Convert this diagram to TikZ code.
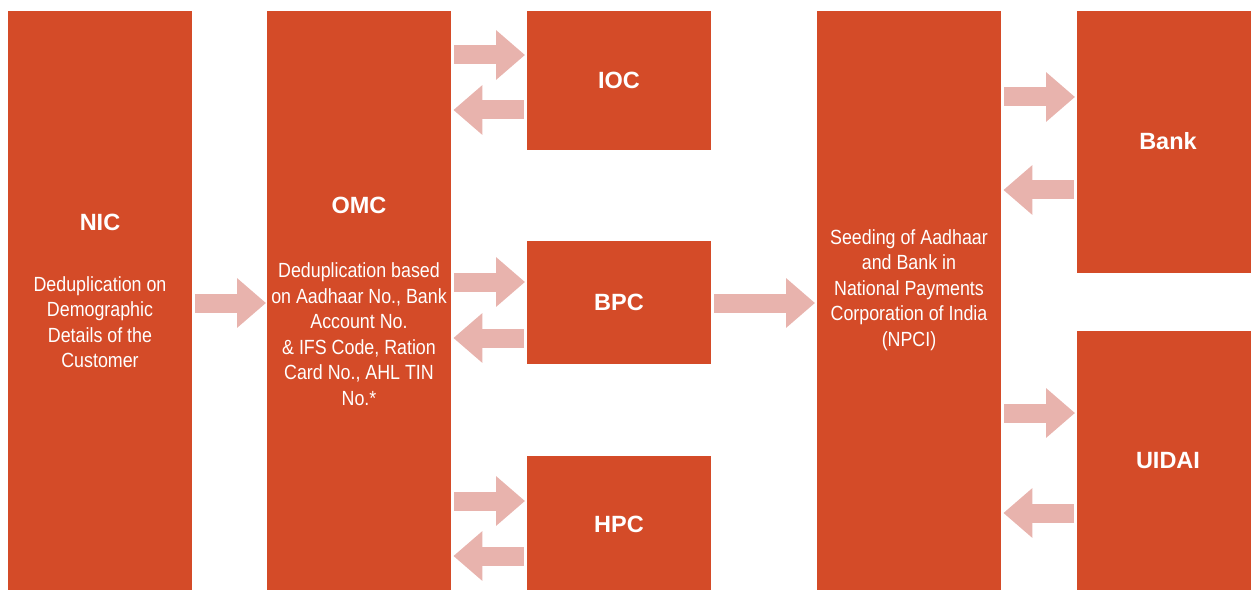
\documentclass[tikz,border=0pt]{standalone}
\usepackage{fontspec}
\setmainfont{Liberation Sans}
\newfontfamily\narrowfont[FakeStretch=0.87]{Liberation Sans}
\usetikzlibrary{arrows.meta}
\definecolor{boxor}{HTML}{D44B28}
\definecolor{arrpk}{HTML}{E8B3AD}
\tikzset{
  box/.style={fill=boxor, draw=none, anchor=north west, inner sep=0pt},
  ttl/.style={text=white, font=\fontsize{23.5}{27}\selectfont\bfseries, align=center},
  bdy/.style={text=white, font=\narrowfont\fontsize{20.5}{25.5}\selectfont, align=center},
  barrow/.style={draw=arrpk, line width=19pt, -{Triangle[width=48pt,length=29pt]}},
}
\begin{document}
\begin{tikzpicture}[x=1pt,y=-1pt]
\useasboundingbox (0,0) rectangle (1251,591);
% boxes
\node[box, minimum width=184pt, minimum height=579pt] (nic) at (8,11) {};
\node[box, minimum width=184pt, minimum height=579pt] (omc) at (267,11) {};
\node[box, minimum width=184pt, minimum height=139pt] (ioc) at (527,11) {};
\node[box, minimum width=184pt, minimum height=123pt] (bpc) at (527,241) {};
\node[box, minimum width=184pt, minimum height=134pt] (hpc) at (527,456) {};
\node[box, minimum width=184pt, minimum height=579pt] (npci) at (817,11) {};
\node[box, minimum width=174pt, minimum height=262pt] (bank) at (1077,11) {};
\node[box, minimum width=174pt, minimum height=259pt] (uidai) at (1077,331) {};
% texts
\node[ttl] (nict) at (100,222) {NIC};
\node[bdy] (nicb) at (100,322) {Deduplication on\\Demographic\\Details of the\\Customer};
\node[ttl] (omct) at (359,205) {OMC};
\node[bdy] (omcb) at (359,334) {Deduplication based\\on Aadhaar No., Bank\\Account No.\\\& IFS Code, Ration\\Card No., AHL TIN\\No.*};
\node[ttl] (ioct) at (619,80) {IOC};
\node[ttl] (bpct) at (619,302) {BPC};
\node[ttl] (hpct) at (619,524) {HPC};
\node[bdy] (npcib) at (909,290) {Seeding of Aadhaar\\and Bank in\\National Payments\\Corporation of India\\(NPCI)};
\node[ttl] (bankt) at (1168,141) {Bank};
\node[ttl] (uidait) at (1168,461) {UIDAI};
% arrows
\draw[barrow] ([shift={(3,292)}]nic.north east) -- ([shift={(-1,292)}]omc.north west);
\draw[barrow] ([shift={(3,44)}]omc.north east) -- ([shift={(-2,44)}]ioc.north west);
\draw[barrow] ([shift={(-3,99)}]ioc.north west) -- ([shift={(2,99)}]omc.north east);
\draw[barrow] ([shift={(3,271)}]omc.north east) -- ([shift={(-2,41)}]bpc.north west);
\draw[barrow] ([shift={(-3,97)}]bpc.north west) -- ([shift={(2,327)}]omc.north east);
\draw[barrow] ([shift={(3,490)}]omc.north east) -- ([shift={(-2,45)}]hpc.north west);
\draw[barrow] ([shift={(-3,100)}]hpc.north west) -- ([shift={(2,545)}]omc.north east);
\draw[barrow] ([shift={(3,62)}]bpc.north east) -- ([shift={(-2,292)}]npci.north west);
\draw[barrow] ([shift={(3,86)}]npci.north east) -- ([shift={(-2,86)}]bank.north west);
\draw[barrow] ([shift={(-3,179)}]bank.north west) -- ([shift={(2,179)}]npci.north east);
\draw[barrow] ([shift={(3,402)}]npci.north east) -- ([shift={(-2,82)}]uidai.north west);
\draw[barrow] ([shift={(-3,182)}]uidai.north west) -- ([shift={(2,502)}]npci.north east);
\end{tikzpicture}
\end{document}
